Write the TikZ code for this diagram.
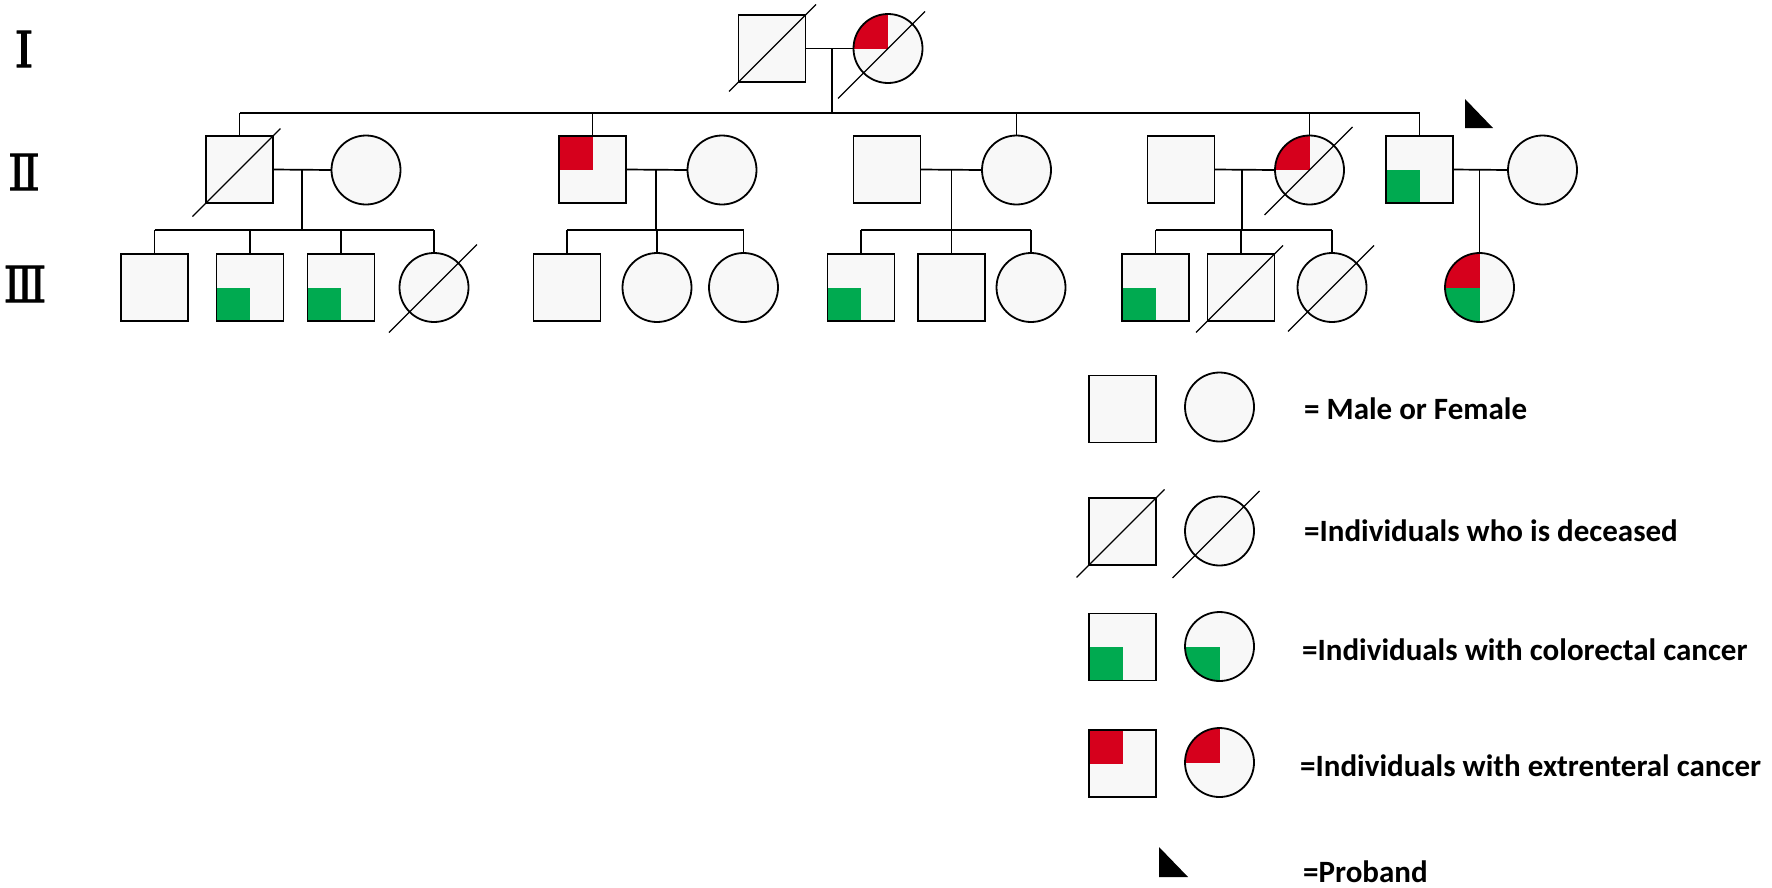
\documentclass[tikz,border=0pt]{standalone}
\usepackage{fontspec}
\setmainfont{Carlito}
\newfontfamily\romfont[FakeBold=1.2]{DejaVu Serif}
\usetikzlibrary{calc}
\definecolor{fillgray}{RGB}{248,248,248}
\definecolor{pred}{RGB}{214,0,28}
\definecolor{pgreen}{RGB}{0,170,80}
\tikzset{
  indiv/.style={draw=black, line width=1.8pt, fill=fillgray, inner sep=0pt, outer sep=0pt},
  male/.style={indiv, rectangle, minimum width=67pt, minimum height=67pt},
  female/.style={indiv, circle, minimum size=69pt},
  crc/.style={path picture={\fill[pgreen] (path picture bounding box.center) rectangle (path picture bounding box.south west);}},
  ext/.style={path picture={\fill[pred] (path picture bounding box.center) rectangle (path picture bounding box.north west);}},
  both/.style={path picture={\fill[pred] (path picture bounding box.center) rectangle (path picture bounding box.north west);
                               \fill[pgreen] (path picture bounding box.center) rectangle (path picture bounding box.south west);}},
  conn/.style={line width=1.7pt},
  slashline/.style={line width=1.1pt},
  roman/.style={inner sep=0pt, font=\romfont\fontsize{50}{50}\selectfont},
  legtext/.style={anchor=west, inner sep=0pt, font=\bfseries\fontsize{31}{36}\selectfont},
}
\newcommand\deadslash[3]{\draw[slashline] ($(#1.center)+(-#2,#2)$) -- ($(#1.center)+(#3,-#3)$);}
\begin{document}
\begin{tikzpicture}[x=1pt,y=-1pt]
\useasboundingbox (0,0) rectangle (1772,887);
% generation labels
\node[roman] (gI) at (24,49) {Ⅰ};
\node[roman] (gII) at (24,172) {\scalebox{0.95}[1]{Ⅱ}};
\node[roman] (gIII) at (25,284) {\scalebox{0.9}[1]{Ⅲ}};
% generation I
\node[male] (I1) at (772,48.5) {};
\node[female, ext] (I2) at (888,48.5) {};
\deadslash{I1}{43}{44}
\deadslash{I2}{50}{37}
\draw[conn] (I1.east) -- (I2.west);
\coordinate (m1) at (832,48.5);
\coordinate (s1) at (832,113);
\draw[conn] (m1) -- (s1);
% generation II
\node[male] (II1) at (239.5,169.5) {};
\node[female] (II1w) at (366,170) {};
\node[male, ext] (II2) at (592.5,169.5) {};
\node[female] (II2w) at (722,170) {};
\node[male] (II3h) at (887,169.5) {};
\node[female] (II3) at (1016.5,170) {};
\node[male] (II4h) at (1181,169.5) {};
\node[female, ext] (II5) at (1309.5,170) {};
\node[male, crc] (II6) at (1419.5,169.5) {};
\node[female] (II6w) at (1542.5,170) {};
\deadslash{II1}{47}{41}
\deadslash{II5}{45}{43}
\fill (1465,99) -- (1465,128) -- (1493,128) -- cycle;
% sibship of generation II
\draw[conn] (II1.north |- s1) -- (II6.north |- s1);
\foreach \n in {II1,II2,II3,II5,II6} \draw[conn] (\n.north) -- (\n.north |- s1);
% marriages in generation II
\draw[conn] (II1.east) -- (II1w.west);
\draw[conn] (II2.east) -- (II2w.west);
\draw[conn] (II3h.east) -- (II3.west);
\draw[conn] (II4h.east) -- (II5.west);
\draw[conn] (II6.east) -- (II6w.west);
% generation III
\node[male] (III1) at (154.5,287.5) {};
\node[male, crc] (III2) at (250,287.5) {};
\node[male, crc] (III3) at (341,287.5) {};
\node[female] (III4) at (434,287.5) {};
\node[male] (III5) at (567,287.5) {};
\node[female] (III6) at (657,287.5) {};
\node[female] (III7) at (743.5,287.5) {};
\node[male, crc] (III8) at (861,287.5) {};
\node[male] (III9) at (951.5,287.5) {};
\node[female] (III10) at (1031,287.5) {};
\node[male, crc] (III11) at (1155.5,287.5) {};
\node[male] (III12) at (1241,287.5) {};
\node[female] (III13) at (1332,287.5) {};
\node[female, both] (III14) at (1479.5,287.5) {};
\deadslash{III4}{45}{43}
\deadslash{III12}{45}{42}
\deadslash{III13}{44}{42}
% descent lines
\coordinate (m2) at (302,170); \coordinate (s2) at (302,230);
\coordinate (m3) at (656,170); \coordinate (s3) at (656,230);
\coordinate (m4) at (951.5,170); \coordinate (s4) at (951.5,230);
\coordinate (m5) at (1242,170); \coordinate (s5) at (1242,230);
\coordinate (m6) at (1479.5,170);
\draw[conn] (m2) -- (s2);
\draw[conn] (m3) -- (s3);
\draw[conn] (m4) -- (s4);
\draw[conn] (m5) -- (s5);
\draw[conn] (m6) -- (III14.north);
\draw[conn] (III1.north |- s2) -- (III4.north |- s2);
\draw[conn] (III5.north |- s3) -- (III7.north |- s3);
\draw[conn] (III8.north |- s4) -- (III10.north |- s4);
\draw[conn] (III11.north |- s5) -- (III13.north |- s5);
\foreach \n/\s in {III1/s2,III2/s2,III3/s2,III4/s2,III5/s3,III6/s3,III7/s3,III8/s4,III9/s4,III10/s4,III11/s5,III12/s5,III13/s5}
  \draw[conn] (\n.north) -- (\n.north |- \s);
% legend
\node[male] (L1m) at (1122.5,409) {};
\node[female] (L1f) at (1219.5,407) {};
\node[male] (L2m) at (1122.5,531.5) {};
\node[female] (L2f) at (1219.5,531) {};
\deadslash{L2m}{46}{42}
\deadslash{L2f}{47}{40}
\node[male, crc] (L3m) at (1122.5,647) {};
\node[female, crc] (L3f) at (1219.5,646.5) {};
\node[male, ext] (L4m) at (1122.5,763.5) {};
\node[female, ext] (L4f) at (1219.5,762.5) {};
\fill (1159,847) -- (1159,877) -- (1188,877) -- cycle;
\node[legtext] (t1) at (1304,409) {= Male or Female};
\node[legtext] (t2) at (1304,531) {=Individuals who is deceased};
\node[legtext] (t3) at (1302,650) {=Individuals with colorectal cancer};
\node[legtext] (t4) at (1300,766) {=Individuals with extrenteral cancer};
\node[legtext] (t5) at (1303,872) {=Proband};
\end{tikzpicture}
\end{document}
